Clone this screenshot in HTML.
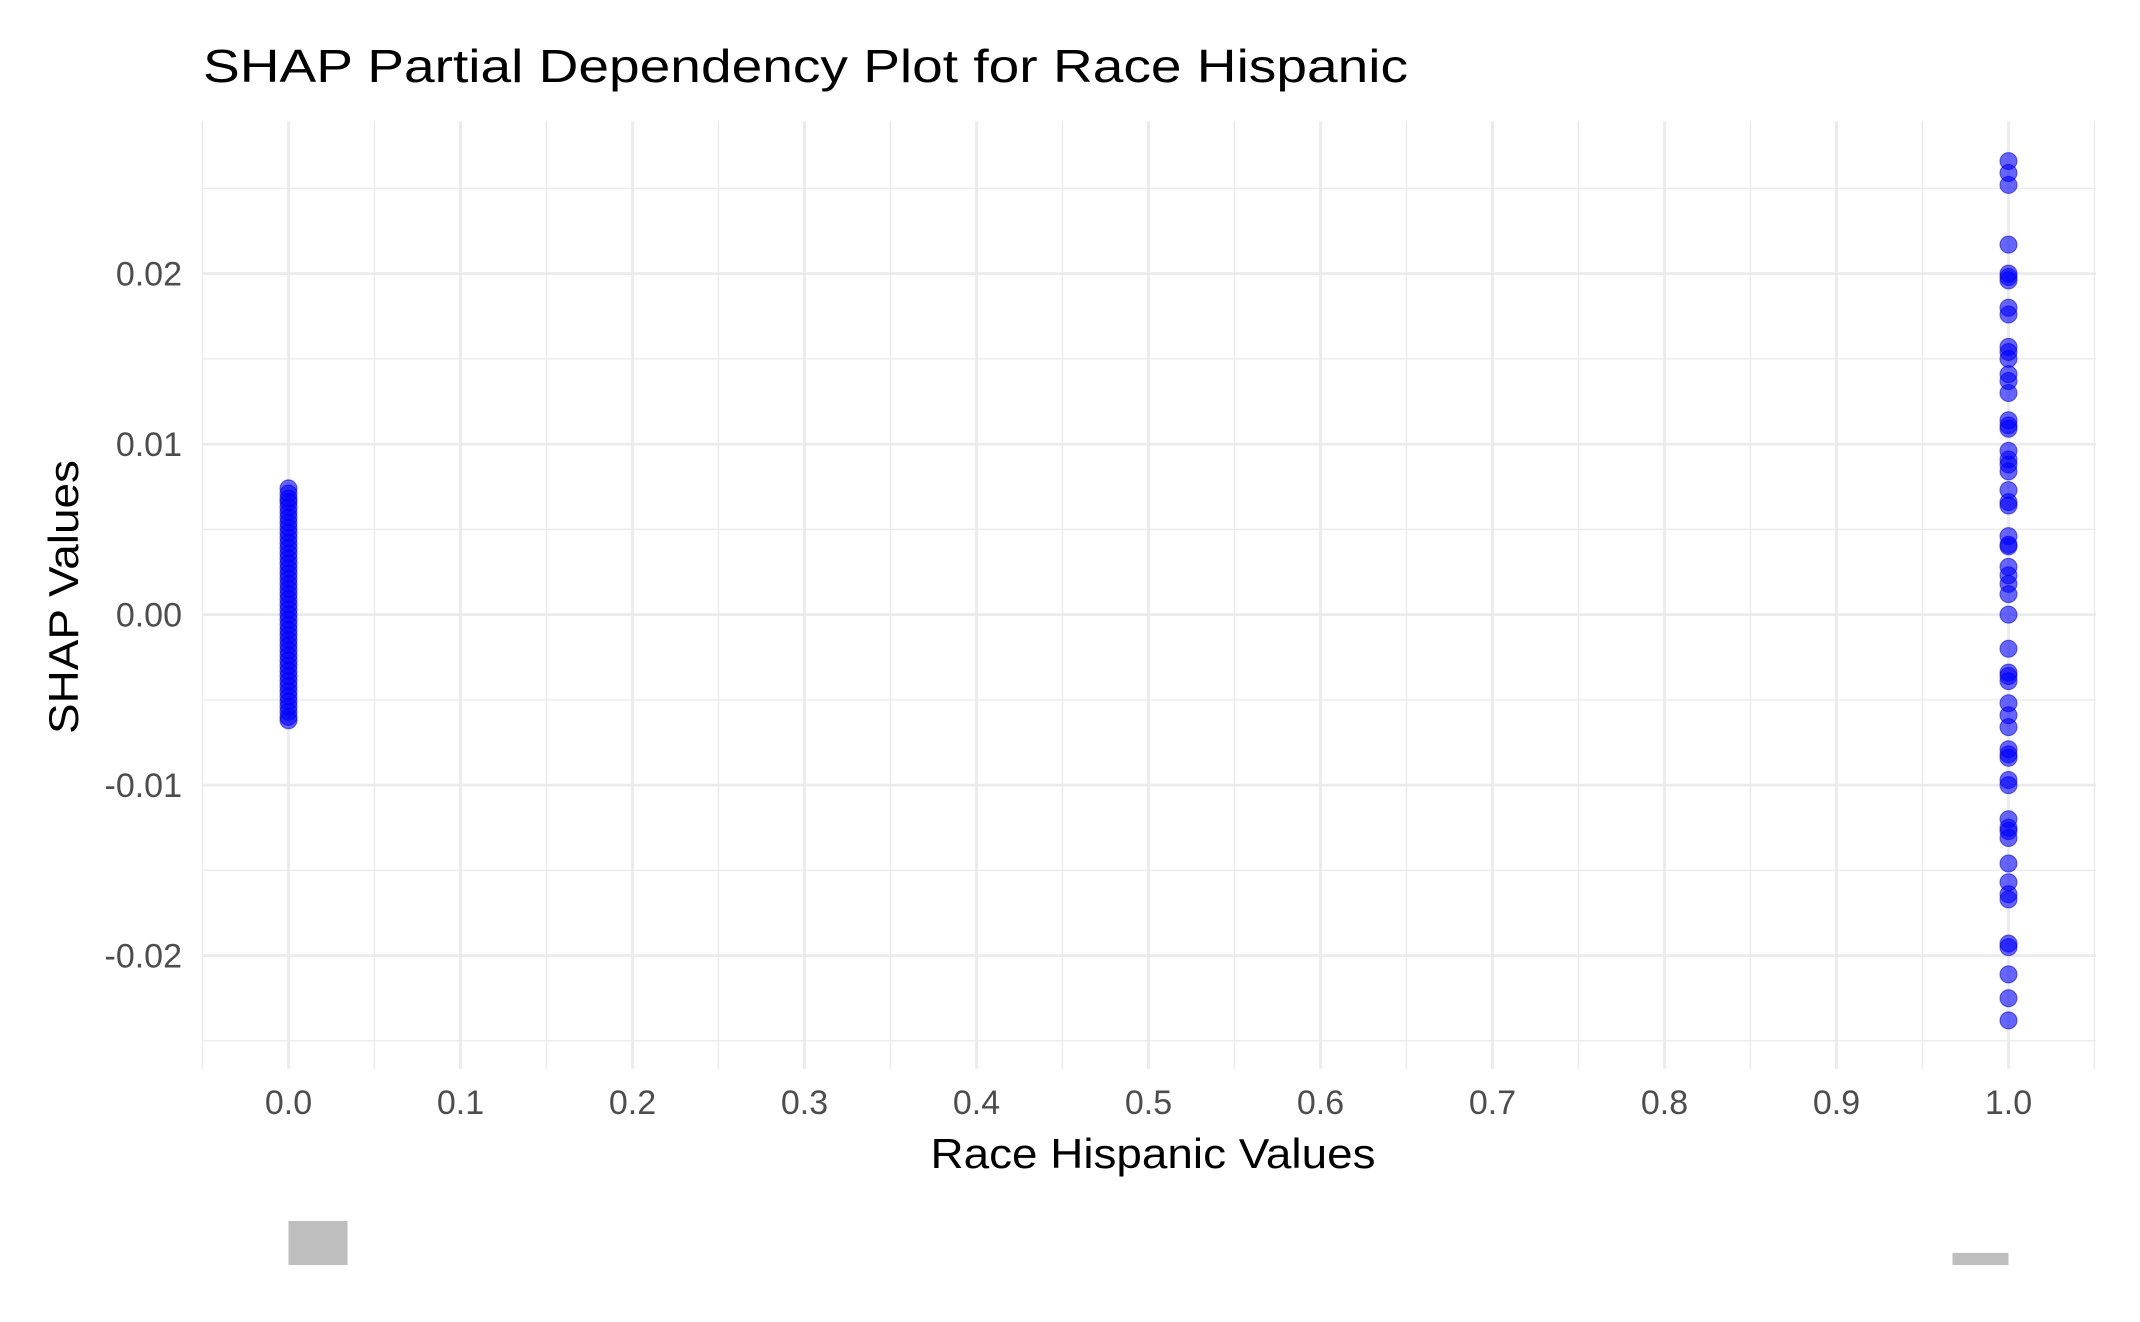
<!DOCTYPE html>
<html><head><meta charset="utf-8"><style>
html,body{margin:0;padding:0;background:#fff;}
svg{display:block;font-family:"Liberation Sans",Arial,sans-serif;}
</style></head><body>
<svg id="chart" width="2140" height="1322" viewBox="0 0 2140 1322">
<text x="203" y="82" font-size="46" fill="#000" textLength="1205" lengthAdjust="spacingAndGlyphs">SHAP Partial Dependency Plot for Race Hispanic</text>
<g id="grid"></g>
<g id="yticks"></g>
<g id="xticks"></g>
<g id="points"></g>
<g id="hist"></g>
<text x="1153" y="1168" font-size="42" fill="#000" text-anchor="middle" textLength="445" lengthAdjust="spacingAndGlyphs">Race Hispanic Values</text>
<text transform="translate(78,597) rotate(-90)" font-size="42" fill="#000" text-anchor="middle" textLength="274" lengthAdjust="spacingAndGlyphs">SHAP Values</text>
</svg>
<script>
const xTicks = [0.0,0.1,0.2,0.3,0.4,0.5,0.6,0.7,0.8,0.9,1.0];
const xTickLabels = ["0.0","0.1","0.2","0.3","0.4","0.5","0.6","0.7","0.8","0.9","1.0"];
const yTicks = [-0.02,-0.01,0.0,0.01,0.02];
const yTickLabels = ["-0.02","-0.01","0.00","0.01","0.02"];
const yMinor = [-0.025,-0.015,-0.005,0.005,0.015,0.025];
const groupX = [0,1];
const shapAt0 = [0.0074,0.0071,0.0068,0.0066,0.0063,0.0060,0.0057,0.0054,0.0051,0.0048,0.0045,0.0042,0.0039,0.0036,0.0033,0.0030,0.0027,0.0024,0.0021,0.0018,0.0015,0.0012,0.0009,0.0006,0.0003,0.0000,-0.0003,-0.0006,-0.0009,-0.0012,-0.0015,-0.0018,-0.0021,-0.0024,-0.0027,-0.0030,-0.0033,-0.0036,-0.0039,-0.0042,-0.0045,-0.0048,-0.0051,-0.0054,-0.0057,-0.0060,-0.0062];
const shapAt1 = [0.0266,0.0259,0.0252,0.0217,0.0200,0.0198,0.0196,0.0180,0.0176,0.0157,0.0154,0.0150,0.0141,0.0137,0.0130,0.0114,0.0111,0.0109,0.0096,0.0091,0.0088,0.0084,0.0073,0.0066,0.0064,0.0046,0.0041,0.0040,0.0028,0.0023,0.0018,0.0012,0.0000,-0.0020,-0.0034,-0.0036,-0.0039,-0.0052,-0.0059,-0.0066,-0.0079,-0.0082,-0.0084,-0.0097,-0.0100,-0.0120,-0.0125,-0.0127,-0.0131,-0.0146,-0.0157,-0.0164,-0.0167,-0.0193,-0.0195,-0.0211,-0.0225,-0.0238];
const histCounts = [47,13];

const NS = "http://www.w3.org/2000/svg";
const X0 = 288.5, X1 = 2008.5, Y0 = 614.6, PER = 17050;
const sx = v => X0 + (X1 - X0) * v;
const sy = v => Y0 - PER * v;
const L = 203, R = 2096, T = 121, B = 1069;
function mk(tag, attrs, parent){ const e=document.createElementNS(NS,tag); for(const k in attrs) e.setAttribute(k,attrs[k]); parent.appendChild(e); return e; }
const grid=document.getElementById('grid');
yMinor.forEach(v=>{ const l=mk('line',{x1:L,x2:R,y1:sy(v),y2:sy(v),stroke:'#ebebeb','stroke-width':1.4},grid);

});
for(let i=0;i<xTicks.length+1;i++){ const v=xTicks[0]-0.05+i*0.1; const l=mk('line',{x1:sx(v),x2:sx(v),y1:T,y2:B,stroke:'#ebebeb','stroke-width':1.4},grid);

}
yTicks.forEach(v=>{ const l=mk('line',{x1:L,x2:R,y1:sy(v),y2:sy(v),stroke:'#ebebeb','stroke-width':2.8},grid);

});
xTicks.forEach(v=>{ const l=mk('line',{x1:sx(v),x2:sx(v),y1:T,y2:B,stroke:'#ebebeb','stroke-width':2.8},grid);

});
const yt=document.getElementById('yticks');
yTicks.forEach((v,i)=>{ const t=mk('text',{x:182,y:sy(v)+12,'font-size':34,fill:'#4d4d4d','text-anchor':'end'},yt); t.textContent=yTickLabels[i];

});
const xt=document.getElementById('xticks');
xTicks.forEach((v,i)=>{ const t=mk('text',{x:sx(v),y:1114,'font-size':34,fill:'#4d4d4d','text-anchor':'middle'},xt); t.textContent=xTickLabels[i];

});
const pts=document.getElementById('points');
[shapAt0,shapAt1].forEach((arr,g)=>{ arr.forEach(v=>{ const c=mk('circle',{cx:sx(groupX[g]),cy:sy(v),r:8.5,fill:'#0000ff','fill-opacity':0.6,stroke:'#0000ff','stroke-opacity':0.6,'stroke-width':1},pts);

});});
const hist=document.getElementById('hist');
const HB=1265, HS=44/47;
histCounts.forEach((c,i)=>{ const h=c*HS; const x = i===0 ? sx(groupX[0]) : sx(groupX[1])-56; const r=mk('rect',{x:x,y:HB-h,width:i===0?59:56,height:h,fill:'#bebebe'},hist);

});
</script>
</body></html>
